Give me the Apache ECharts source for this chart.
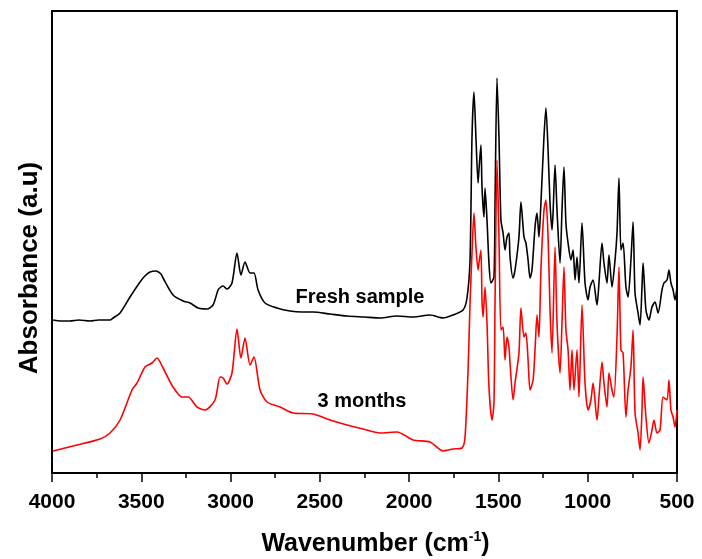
<!DOCTYPE html>
<html>
<head>
<meta charset="utf-8">
<script src="https://cdn.jsdelivr.net/npm/echarts@6/dist/echarts.min.js"></script>
<style>html,body{margin:0;padding:0;background:#fff}#c{width:702px;height:559px}</style>
</head>
<body>
<div id="c"></div>
<script>
// Wavenumber (cm-1) and absorbance (a.u., offset)
var freshWn = [3994,3950,3899,3850,3787,3740,3675,3658,3619,3563,3507,3480,3451,3418,3390,3378,3322,3266,3227,3182,3132,3098,3070,3054,3042,3020,2992,2964,2942,2919,2891,2869,2846,2807,2740,2667,2600,2538,2443,2348,2250,2163,2068,1978,1883,1810,1754,1698,1676,1659,1648,1637,1626,1614,1609,1598,1592,1581,1575,1564,1553,1542,1525,1519,1508,1497,1486,1474,1463,1452,1441,1435,1418,1407,1385,1374,1357,1346,1334,1323,1312,1295,1284,1273,1262,1245,1234,1222,1211,1200,1194,1183,1172,1155,1144,1133,1122,1110,1094,1082,1071,1060,1049,1032,1015,998,987,970,948,937,920,909,892,881,864,847,836,825,814,802,786,774,758,746,735,718,707,696,690,674,657,640,623,606,584,573,556,545,534,522,511,500];
var freshAbs = [1.53,1.52,1.52,1.53,1.52,1.53,1.53,1.55,1.60,1.76,1.91,1.97,2.01,2.02,1.99,1.95,1.78,1.72,1.70,1.65,1.64,1.68,1.83,1.86,1.87,1.84,1.90,2.20,1.98,2.11,2.00,2.00,1.83,1.70,1.65,1.62,1.61,1.61,1.59,1.57,1.56,1.55,1.57,1.56,1.58,1.55,1.58,1.63,1.75,2.13,3.36,3.81,3.36,2.90,3.03,3.28,2.86,2.56,2.85,2.53,2.10,1.90,1.96,2.70,3.95,3.36,2.53,2.40,2.23,2.36,2.40,2.16,1.95,2.03,2.36,2.71,2.36,2.30,2.13,1.95,2.03,2.46,2.60,2.36,2.70,3.36,3.65,3.23,2.70,2.43,2.60,3.08,2.63,2.10,2.63,3.06,2.50,2.30,2.13,2.23,1.93,2.16,1.90,2.50,1.90,1.73,1.86,1.93,1.68,1.90,2.30,2.10,1.90,2.18,1.86,2.13,2.40,2.95,2.23,2.30,1.86,1.76,2.13,2.51,1.80,1.60,1.48,1.86,2.10,1.63,1.53,1.66,1.71,1.60,1.83,1.90,1.93,2.03,1.90,1.83,1.73,1.86];

var agedWn = [3994,3860,3731,3675,3619,3552,3524,3479,3440,3412,3378,3322,3272,3238,3188,3143,3087,3059,3042,3020,2992,2964,2942,2919,2891,2869,2835,2796,2723,2650,2538,2443,2348,2258,2163,2068,1978,1883,1810,1754,1704,1687,1670,1659,1648,1637,1626,1614,1609,1598,1592,1586,1575,1564,1553,1536,1525,1519,1508,1497,1486,1474,1463,1452,1441,1435,1418,1407,1385,1374,1357,1346,1334,1323,1306,1295,1284,1273,1262,1245,1234,1222,1211,1200,1183,1172,1155,1144,1133,1122,1110,1099,1088,1077,1060,1049,1032,1015,998,982,970,948,937,920,909,892,881,864,853,836,825,814,802,786,774,758,746,735,718,707,696,690,674,657,640,629,612,595,578,556,545,534,522,511,500];
var agedAbs = [0.22,0.28,0.34,0.40,0.53,0.83,0.90,1.06,1.10,1.15,1.05,0.86,0.76,0.76,0.66,0.63,0.73,0.96,0.95,0.89,1.00,1.44,1.15,1.35,1.08,1.16,0.83,0.71,0.66,0.60,0.59,0.53,0.48,0.44,0.40,0.41,0.33,0.31,0.22,0.24,0.25,0.36,1.03,1.70,2.20,2.60,2.26,2.03,2.10,2.23,1.73,1.56,1.86,1.50,0.86,0.53,0.70,1.70,3.13,2.36,1.43,1.46,1.13,1.36,1.26,1.10,0.73,0.90,1.20,1.65,1.36,1.40,1.13,0.83,0.93,1.23,1.58,1.36,2.03,2.63,2.73,2.36,1.63,1.20,2.26,1.50,1.00,1.50,2.06,1.43,1.23,0.83,1.23,0.83,1.23,0.76,1.68,0.90,0.63,0.73,0.90,0.53,0.76,1.11,0.90,0.66,1.00,0.83,0.76,1.36,2.06,1.23,1.20,0.56,0.83,1.06,1.43,0.60,0.40,0.23,0.63,0.96,0.56,0.30,0.43,0.53,0.40,0.43,0.76,0.73,0.93,0.63,0.56,0.46,0.63];

var xTicks = [500, 4000, 500]; // min, max, interval
var seriesNames = ['Fresh sample', '3 months'];
var yTitle = 'Absorbance (a.u)';

function pairs(xs, ys) { return xs.map(function (x, i) { return [x, ys[i]]; }); }

var chart = echarts.init(document.getElementById('c'));
var fontFam = 'Liberation Sans, Arial, sans-serif';
chart.setOption({
  animation: false,
  backgroundColor: '#fff',
  grid: { left: 52, right: 25, top: 11, bottom: 86, containLabel: false, outerBoundsMode: 'none', show: true, borderColor: '#000', borderWidth: 2, backgroundColor: 'transparent' },
  xAxis: {
    type: 'value', inverse: true, min: xTicks[0], max: xTicks[1], interval: xTicks[2],
    axisLine: { show: true, onZero: false, lineStyle: { color: '#000', width: 2 } },
    axisTick: { show: true, inside: false, length: 9, lineStyle: { color: '#000', width: 1.5 } },
    minorTick: { show: true, splitNumber: 2, length: 5, lineStyle: { color: '#000', width: 1.5 } },
    splitLine: { show: false },
    axisLabel: { color: '#000', fontSize: 21, fontWeight: 'bold', fontFamily: fontFam, margin: 19, formatter: function (v) { return String(v); } },
    name: '{a|Wavenumber (cm}{b|-1}{a|)}',
    nameLocation: 'middle', nameGap: 57,
    nameTextStyle: {
      padding: [0, 0, 0, 22],
      rich: {
        a: { fontSize: 25, fontWeight: 'bold', fontFamily: fontFam, color: '#000', lineHeight: 28 },
        b: { fontSize: 14, fontWeight: 'bold', fontFamily: fontFam, color: '#000', verticalAlign: 'top', lineHeight: 28, padding: [0, 0, 12, 0] }
      }
    }
  },
  yAxis: {
    type: 'value', min: 0, max: 4.62,
    axisLine: { show: true, lineStyle: { color: '#000', width: 2 } },
    axisTick: { show: false }, axisLabel: { show: false }, splitLine: { show: false }
  },
  series: [
    { name: seriesNames[0], type: 'line', showSymbol: false, smooth: 0.25, data: pairs(freshWn, freshAbs), lineStyle: { color: '#000', width: 1.6 }, itemStyle: { color: '#000' } },
    { name: seriesNames[1], type: 'line', showSymbol: false, smooth: 0.25, data: pairs(agedWn, agedAbs), lineStyle: { color: '#ff0000', width: 1.6 }, itemStyle: { color: '#ff0000' } }
  ],
  graphic: [
    { type: 'text', x: 30, y: 268, rotation: Math.PI / 2, style: { text: yTitle, fill: '#000', font: 'bold 26px ' + fontFam, textAlign: 'center', textVerticalAlign: 'middle' } },
    { type: 'text', x: 360, y: 297, style: { text: seriesNames[0], fill: '#000', font: 'bold 20px ' + fontFam, textAlign: 'center', textVerticalAlign: 'middle' } },
    { type: 'text', x: 362, y: 401, style: { text: seriesNames[1], fill: '#000', font: 'bold 20px ' + fontFam, textAlign: 'center', textVerticalAlign: 'middle' } }
  ]
});
</script>
</body>
</html>
